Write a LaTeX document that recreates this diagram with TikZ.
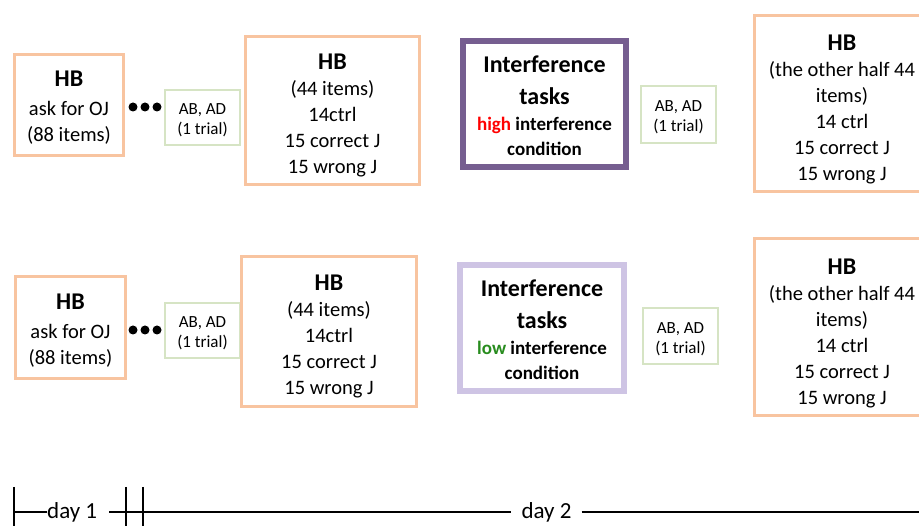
\documentclass[tikz,border=0pt]{standalone}
\usepackage{fontspec}
\setmainfont{Carlito}
\definecolor{hborange}{RGB}{248,196,160}
\definecolor{taskpurple}{RGB}{118,94,144}
\definecolor{tasklilac}{RGB}{206,196,228}
\definecolor{trialgreen}{RGB}{214,228,196}
\definecolor{lowgreen}{RGB}{40,140,30}
\tikzset{
  hbbox/.style={draw=hborange, line width=3pt, align=center, inner sep=0pt,
    font=\fontsize{20.5}{26}\selectfont},
  trialbox/.style={draw=trialgreen, line width=1.2pt, align=center, inner sep=0pt,
    font=\fontsize{17}{20}\selectfont},
  taskbox/.style={line width=6pt, align=center, inner sep=0pt,
    font=\bfseries\fontsize{19}{25}\selectfont},
  daylabel/.style={inner sep=0pt, font=\fontsize{23}{26}\selectfont},
  timeline/.style={line width=2pt}
}
\newcommand{\hbhead}[1][0pt]{{\bfseries\fontsize{24}{26}\selectfont\rule{0pt}{#1}HB}}
\newcommand{\taskhead}{{\fontsize{24}{31}\selectfont\rule{0pt}{20.5pt}Interference}\\[7pt]{\fontsize{24}{31}\selectfont tasks}\\[1pt]}
\newcommand{\trialtext}{\rule{0pt}{17pt}AB, AD\\(1 trial)}
\begin{document}
\begin{tikzpicture}[x=1pt,y=1pt,yscale=-1]
  \clip (0,0) rectangle (919,526);
  \fill[white] (0,0) rectangle (919,526);

  % high interference row
  \node[hbbox, minimum width=109, minimum height=101] (ojtop) at (69,105)
    {\hbhead[21.5pt]\\[3pt]ask for OJ\\(88 items)};
  \foreach \x in {133,145,157} \fill (\x,107) circle (4.5pt);
  \node[trialbox, minimum width=75, minimum height=55] (trialtopA) at (202.5,117.5)
    {\trialtext};
  \node[hbbox, minimum width=174, minimum height=148] (halftopA) at (332.5,110.5)
    {\hbhead[26pt]\\(44 items)\\14ctrl\\15 correct J\\15 wrong J};
  \node[taskbox, draw=taskpurple, minimum width=163, minimum height=126] (tasktop) at (544.5,104)
    {\taskhead{\color{red}high} interference\\condition};
  \node[trialbox, minimum width=75, minimum height=57] (trialtopB) at (678.5,114.5)
    {\trialtext};
  \node[hbbox, minimum width=175, minimum height=176] (halftopB) at (842,103.5)
    {\hbhead[28pt]\\(the other half 44\\items)\\14 ctrl\\15 correct J\\15 wrong J};

  % low interference row
  \node[hbbox, minimum width=110, minimum height=102] (ojbot) at (70.5,327.5)
    {\hbhead[21.5pt]\\[3pt]ask for OJ\\(88 items)};
  \foreach \x in {133,145,157} \fill (\x,330) circle (4.5pt);
  \node[trialbox, minimum width=75, minimum height=55] (trialbotA) at (202.5,330.5)
    {\trialtext};
  \node[hbbox, minimum width=175, minimum height=150] (halfbotA) at (329,331.5)
    {\hbhead[26pt]\\(44 items)\\14ctrl\\15 correct J\\15 wrong J};
  \node[taskbox, draw=tasklilac, minimum width=164, minimum height=126] (taskbot) at (542,328)
    {\taskhead{\color{lowgreen}low} interference\\condition};
  \node[trialbox, minimum width=75, minimum height=56] (trialbotB) at (680.5,336)
    {\trialtext};
  \node[hbbox, minimum width=175, minimum height=177] (halfbotB) at (842,327)
    {\hbhead[28pt]\\(the other half 44\\items)\\14 ctrl\\15 correct J\\15 wrong J};

  % time line
  \coordinate (start) at (14,512);
  \coordinate (stop) at (925,512);
  \node[daylabel, anchor=west] (dayone) at (47,512) {day 1};
  \node[daylabel] (daytwo) at (546.5,512) {day 2};
  \foreach \x in {14,126,143} \draw[timeline] (\x,487) -- (\x,530);
  \draw[timeline] (start) -- (dayone.west);
  \draw[timeline] ([xshift=12]dayone.east) -- ([xshift=-10]daytwo.west);
  \draw[timeline] ([xshift=10]daytwo.east) -- (stop);
\end{tikzpicture}
\end{document}
